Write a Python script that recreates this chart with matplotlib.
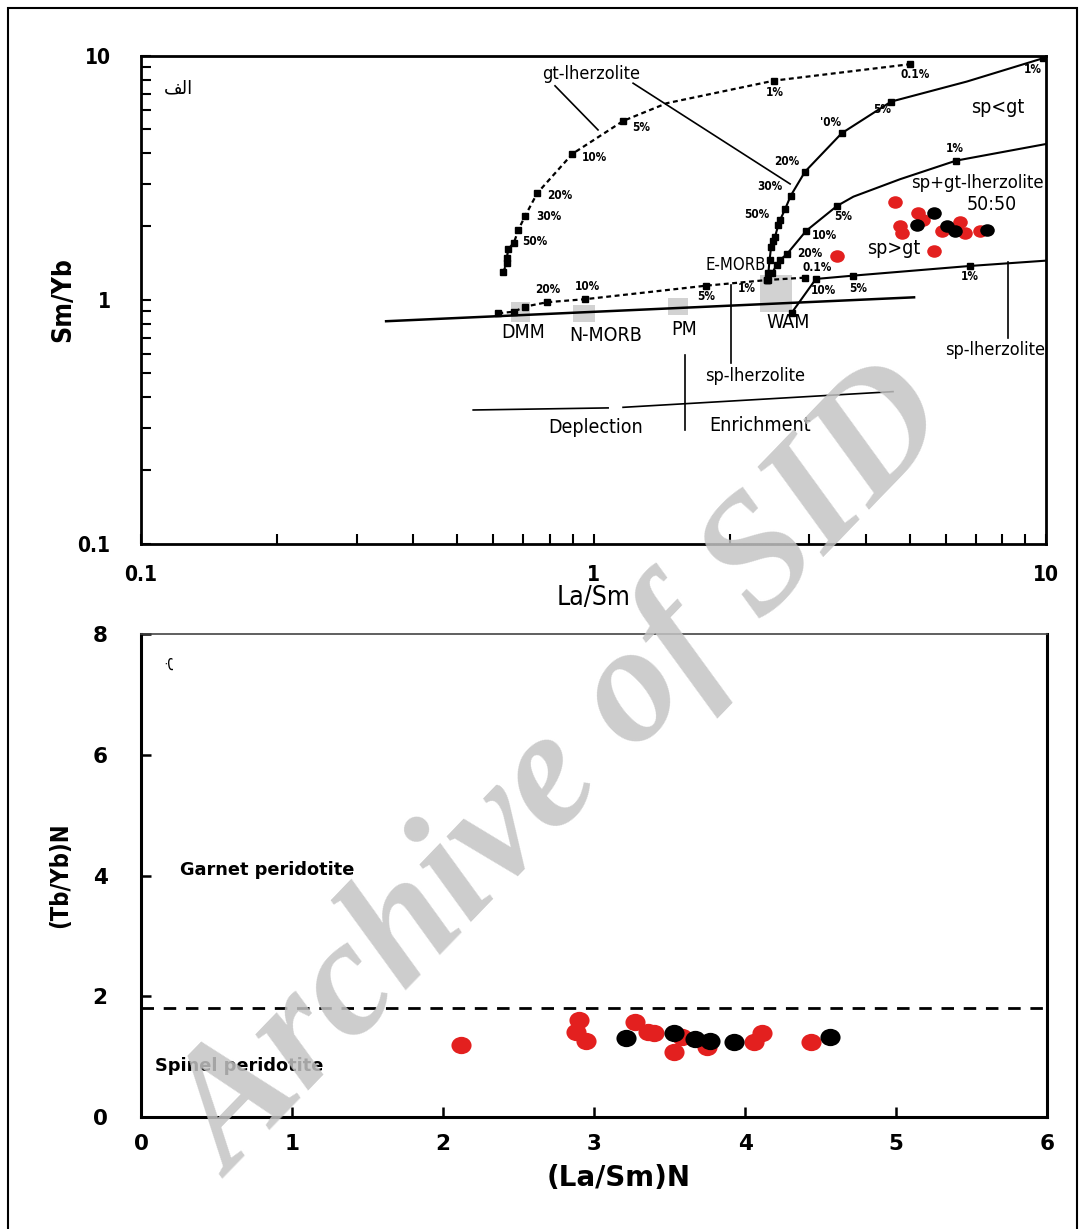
import matplotlib
matplotlib.use("Agg")
import matplotlib.pyplot as plt
from matplotlib import font_manager as fm
from matplotlib.patches import Rectangle
from matplotlib.path import Path
from matplotlib.transforms import Affine2D
from matplotlib.ticker import LogLocator, NullFormatter, FixedLocator

# ---------------- (a) La/Sm vs Sm/Yb : melting models ----------------
# garnet-lherzolite melting of DMM (dotted)
gt_lhz_lasm = [0.632, 0.643, 0.643, 0.648, 0.667, 0.682, 0.706, 0.751, 0.898, 1.164, 1.451, 2.506, 5.006]
gt_lhz_smyb = [1.306, 1.413, 1.482, 1.614, 1.718, 1.936, 2.21, 2.74, 3.97, 5.42, 6.40, 7.92, 9.25]
gt_lhz_steps = [0, 1, 2, 3, 4, 5, 6, 7, 8, 9, 11, 12]
gt_lhz_pct = ["50%", "30%", "20%", "10%", "5%", "1%", "0.1%"]

# spinel-lherzolite melting of DMM (dotted)
sp_lhz_lasm = [0.616, 0.667, 0.706, 0.790, 0.958, 1.773, 2.434, 2.934]
sp_lhz_smyb = [0.882, 0.895, 0.939, 0.979, 1.007, 1.144, 1.208, 1.234]
sp_lhz_pct = ["20%", "10%", "5%", "1%", "0.1%"]

# sp<gt lherzolite melting (upper solid)
sp_lt_gt_lasm = [2.418, 2.434, 2.449, 2.468, 2.497, 2.518, 2.561, 2.584, 2.650, 2.728, 2.934, 3.536, 4.545, 6.68, 9.86]
sp_lt_gt_smyb = [1.208, 1.287, 1.459, 1.644, 1.745, 1.817, 2.029, 2.128, 2.353, 2.676, 3.357, 4.823, 6.497, 7.85, 9.79]
sp_lt_gt_steps = [0, 1, 2, 3, 4, 5, 6, 7, 8, 9, 10, 11, 12, 14]
sp_lt_gt_pct = ["50%", "30%", "20%", "'0%", "5%", "1%"]

# sp+gt lherzolite 50:50 melting (middle solid)
sp_gt_lasm = [2.418, 2.477, 2.541, 2.584, 2.673, 2.949, 3.452, 3.752, 4.757, 6.326, 10.03]
sp_gt_smyb = [1.208, 1.287, 1.391, 1.459, 1.539, 1.918, 2.428, 2.65, 3.124, 3.723, 4.36]
sp_gt_steps = [0, 1, 2, 3, 4, 5, 6, 9]
sp_gt_pct = ["20%", "10%", "5%", "1%"]

# sp>gt lherzolite melting (lower solid)
sp_gt_gt_lasm = [2.742, 3.10, 3.752, 6.79, 10.0]
sp_gt_gt_smyb = [0.887, 1.219, 1.258, 1.378, 1.449]
sp_gt_gt_steps = [0, 1, 2, 3]
sp_gt_gt_pct = ["10%", "5%", "1%"]

# mantle array and depletion / enrichment guide
mantle_lasm = [0.348, 5.109]
mantle_smyb = [0.818, 1.025]
depl_lasm = [[0.542, 1.077], [1.162, 4.59]]
depl_smyb = [[0.354, 0.361], [0.363, 0.421]]

# source reservoirs (La/Sm range, Sm/Yb range)
reservoir_names = ["DMM", "N-MORB", "PM", "WAM"]
reservoir_lasm = [(0.657, 0.724), (0.901, 1.008), (1.463, 1.620), (2.334, 2.742)]
reservoir_smyb = [(0.815, 0.984), (0.815, 0.954), (0.868, 1.019), (0.895, 1.266)]

# samples
red_lasm_a = [4.64, 5.22, 5.35, 4.76, 4.80, 5.64, 6.46, 6.62, 5.88, 7.15, 3.45]
red_smyb_a = [2.53, 2.27, 2.13, 2.00, 1.88, 1.58, 2.09, 1.88, 1.91, 1.91, 1.51]
blk_lasm_a = [5.64, 5.18, 6.03, 6.29, 7.39]
blk_smyb_a = [2.27, 2.03, 2.00, 1.91, 1.94]

# ---------------- (b) (La/Sm)N vs (Tb/Yb)N ----------------
red_lasm_b = [2.12, 2.90, 2.88, 2.95, 3.27, 3.36, 3.40, 3.58, 3.53, 3.75, 4.06, 4.11, 4.44]
red_tbyb_b = [1.19, 1.61, 1.41, 1.26, 1.58, 1.41, 1.40, 1.33, 1.08, 1.16, 1.25, 1.40, 1.25]
blk_lasm_b = [3.21, 3.53, 3.67, 3.77, 3.93, 4.56]
blk_tbyb_b = [1.31, 1.40, 1.29, 1.26, 1.25, 1.32]
garnet_spinel_limit = 1.8

RED = "#e3201f"

# pick a narrow sans face for the diagram annotations
_faces = {(f.name, f.stretch) for f in fm.fontManager.ttflist}
if any(n == "Liberation Sans Narrow" for n, _ in _faces):
    NARROW = dict(family=["Liberation Sans Narrow", "DejaVu Sans"])
elif ("DejaVu Sans", "condensed") in _faces or ("DejaVu Sans", 600) in _faces:
    NARROW = dict(family=["DejaVu Sans"], stretch="condensed")
else:
    NARROW = dict(family=["Roboto", "DejaVu Sans"])
ARABIC = ["DejaVu Sans"]

# slightly flattened dot marker
ELLIPSE = Path.unit_circle().transformed(Affine2D().scale(1.0, 0.86))

fig = plt.figure(figsize=(10.84, 12.29), dpi=100)

# ---------- panel (a) ----------
ax = fig.add_axes([0.1301, 0.5574, 0.8349, 0.3971])
ax.set_xscale("log")
ax.set_yscale("log")
ax.set_xlim(0.1, 10)
ax.set_ylim(0.1, 10)

for (x0, x1), (y0, y1) in zip(reservoir_lasm, reservoir_smyb):
    ax.add_patch(Rectangle((x0, y0), x1 - x0, y1 - y0, color="#d2d2d2", lw=0, zorder=1))

ax.plot(mantle_lasm, mantle_smyb, color="black", lw=1.8, zorder=2)
for xs, ys in zip(depl_lasm, depl_smyb):
    ax.plot(xs, ys, color="black", lw=1.2, zorder=2)

dot = (0, (2.2, 1.6))
ax.plot(gt_lhz_lasm, gt_lhz_smyb, color="black", lw=1.6, ls=dot, marker="s", ms=5,
        markevery=gt_lhz_steps, zorder=3)
ax.plot(sp_lhz_lasm, sp_lhz_smyb, color="black", lw=1.6, ls=dot, marker="s", ms=5, zorder=3)
ax.plot(sp_lt_gt_lasm, sp_lt_gt_smyb, color="black", lw=1.5, marker="s", ms=5,
        markevery=sp_lt_gt_steps, zorder=3)
ax.plot(sp_gt_lasm, sp_gt_smyb, color="black", lw=1.5, marker="s", ms=5,
        markevery=sp_gt_steps, zorder=3)
ax.plot(sp_gt_gt_lasm, sp_gt_gt_smyb, color="black", lw=1.5, marker="s", ms=5,
        markevery=sp_gt_gt_steps, zorder=3)

# leader lines and divisions
ax.plot([0.822, 1.023], [7.54, 4.975], color="black", lw=1.2, zorder=2)
ax.plot([1.223, 2.719], [7.73, 2.988], color="black", lw=1.2, zorder=2)
ax.plot([1.593, 1.593], [0.595, 0.293], color="black", lw=1.2, zorder=2)
ax.plot([2.013, 2.013], [1.152, 0.552], color="black", lw=1.2, zorder=2)
ax.plot([8.24, 8.24], [1.431, 0.699], color="black", lw=1.2, zorder=2)

ax.plot(red_lasm_a, red_smyb_a, ls="none", marker=ELLIPSE, ms=10.5, mew=0, color=RED, zorder=4)
ax.plot(blk_lasm_a, blk_smyb_a, ls="none", marker=ELLIPSE, ms=10.5, mew=0, color="black", zorder=5)

pct_kw = dict(fontsize=8.5, fontweight="bold", ha="center", va="center", zorder=6, **NARROW)
gt_pct_pos = [(0.743, 1.729), (0.797, 2.19), (0.843, 2.69), (1.003, 3.82), (1.273, 5.07),
              (2.518, 7.05), (5.134, 8.36)]
sp_pct_pos = [(0.793, 1.099), (0.967, 1.13), (1.773, 1.029), (2.184, 1.109), (3.119, 1.353)]
ltgt_pct_pos = [(2.298, 2.23), (2.455, 2.904), (2.677, 3.68), (3.332, 5.36), (4.342, 6.005),
                (9.36, 8.76)]
spgt_pct_pos = [(3.009, 1.543), (3.232, 1.829), (3.559, 2.19), (6.295, 4.156)]
gtgt_pct_pos = [(3.216, 1.089), (3.842, 1.109), (6.79, 1.243)]
for labels, positions in [(gt_lhz_pct, gt_pct_pos), (sp_lhz_pct, sp_pct_pos),
                          (sp_lt_gt_pct, ltgt_pct_pos), (sp_gt_pct, spgt_pct_pos),
                          (sp_gt_gt_pct, gtgt_pct_pos)]:
    for t, (x, y) in zip(labels, positions):
        ax.text(x, y, t, **pct_kw)

lab_kw = dict(ha="center", va="center", zorder=6, **NARROW)
ax.text(0.987, 8.44, "gt-lherzolite", fontsize=13, **lab_kw)
ax.text(7.83, 6.12, "sp<gt", fontsize=14, **lab_kw)
ax.text(7.04, 3.02, "sp+gt-lherzolite", fontsize=13.2, **lab_kw)
ax.text(7.60, 2.45, "50:50", fontsize=14, **lab_kw)
ax.text(4.61, 1.618, "sp>gt", fontsize=14, **lab_kw)
ax.text(2.065, 1.391, "E-MORB", fontsize=12, **lab_kw)
name_pos = [(0.699, 0.732), (1.066, 0.712), (1.585, 0.760), (2.69, 0.805)]
for name, (x, y) in zip(reservoir_names, name_pos):
    ax.text(x, y, name, fontsize=14, **lab_kw)
ax.text(2.275, 0.488, "sp-lherzolite", fontsize=13, **lab_kw)
ax.text(7.72, 0.624, "sp-lherzolite", fontsize=13, **lab_kw)
ax.text(1.013, 0.299, "Deplection", fontsize=14, **lab_kw)
ax.text(2.334, 0.307, "Enrichment", fontsize=14, **lab_kw)
ax.text(0.1207, 7.39, "\uFED2\uFEDF\uFE8D", fontsize=13, family=ARABIC, ha="center",
        va="center")

ax.xaxis.set_major_locator(FixedLocator([0.1, 1, 10]))
ax.yaxis.set_major_locator(FixedLocator([0.1, 1, 10]))
ax.set_xticklabels(["0.1", "1", "10"])
ax.set_yticklabels(["0.1", "1", "10"])
ax.xaxis.set_minor_locator(LogLocator(base=10, subs=range(2, 10)))
ax.yaxis.set_minor_locator(LogLocator(base=10, subs=range(2, 10)))
ax.xaxis.set_minor_formatter(NullFormatter())
ax.yaxis.set_minor_formatter(NullFormatter())
ax.tick_params(which="both", direction="in", length=7, width=1.5, top=False, right=False)
ax.tick_params(axis="x", which="major", pad=15)
ax.tick_params(axis="y", which="major", pad=22)
for lbl in ax.get_xticklabels() + ax.get_yticklabels():
    lbl.set_fontsize(15)
    lbl.set_fontweight("bold")
    lbl.set_family(NARROW["family"])
    if "stretch" in NARROW:
        lbl.set_stretch(NARROW["stretch"])
for s in ax.spines.values():
    s.set_linewidth(2.0)
ax.set_xlabel("La/Sm", fontsize=19, labelpad=0, **NARROW)
ax.set_ylabel("Sm/Yb", fontsize=19, fontweight="bold", labelpad=1, **NARROW)

# ---------- panel (b) ----------
bx = fig.add_axes([0.1301, 0.0911, 0.8358, 0.3930])
bx.set_xlim(0, 6)
bx.set_ylim(0, 8)
bx.axhline(garnet_spinel_limit, color="black", lw=2, ls=(0, (4.5, 3.5)), zorder=2)
bx.plot(red_lasm_b, red_tbyb_b, ls="none", marker=ELLIPSE, ms=14.5, mew=0, color=RED, zorder=3)
bx.plot(blk_lasm_b, blk_tbyb_b, ls="none", marker=ELLIPSE, ms=14.5, mew=0, color="black", zorder=4)
bx.text(0.26, 4.1, "Garnet peridotite", fontsize=12.8, fontweight="bold", va="center")
bx.text(0.09, 0.85, "Spinel peridotite", fontsize=12.8, fontweight="bold", va="center")
bx.text(0.2, 7.5, "\uFE8F", fontsize=11, family=ARABIC, rotation=-90, ha="center",
        va="center")
bx.set_xticks(range(0, 7))
bx.set_yticks(range(0, 9, 2))
bx.tick_params(direction="in", length=7, width=1.8, labelsize=15.5, pad=12)
for lbl in bx.get_xticklabels() + bx.get_yticklabels():
    lbl.set_fontweight("bold")
bx.tick_params(axis="y", pad=24)
bx.spines["top"].set_linewidth(1.2)
bx.spines["top"].set_color("#444444")
for k in ["left", "right", "bottom"]:
    bx.spines[k].set_linewidth(2.2)
bx.set_xlabel("(La/Sm)N", fontsize=20, fontweight="bold")
bx.xaxis.set_label_coords(0.527, -0.097)
bx.set_ylabel("(Tb/Yb)N", fontsize=17, fontweight="bold", labelpad=15, **NARROW)

# page frame
fig.add_artist(Rectangle((8 / 1084, -0.01), 1069 / 1084, 1.01 - 8 / 1229,
                         transform=fig.transFigure, fill=False, lw=1.5, ec="black"))

# archive watermark
fig.text(0.522, 0.37, "Archive of SID", fontsize=121, family=["Liberation Serif"],
         fontweight="bold", style="italic", color="#c4c4c4", alpha=0.85, rotation=46,
         ha="center", va="center", zorder=20)

fig.savefig("out.png", dpi=100)
